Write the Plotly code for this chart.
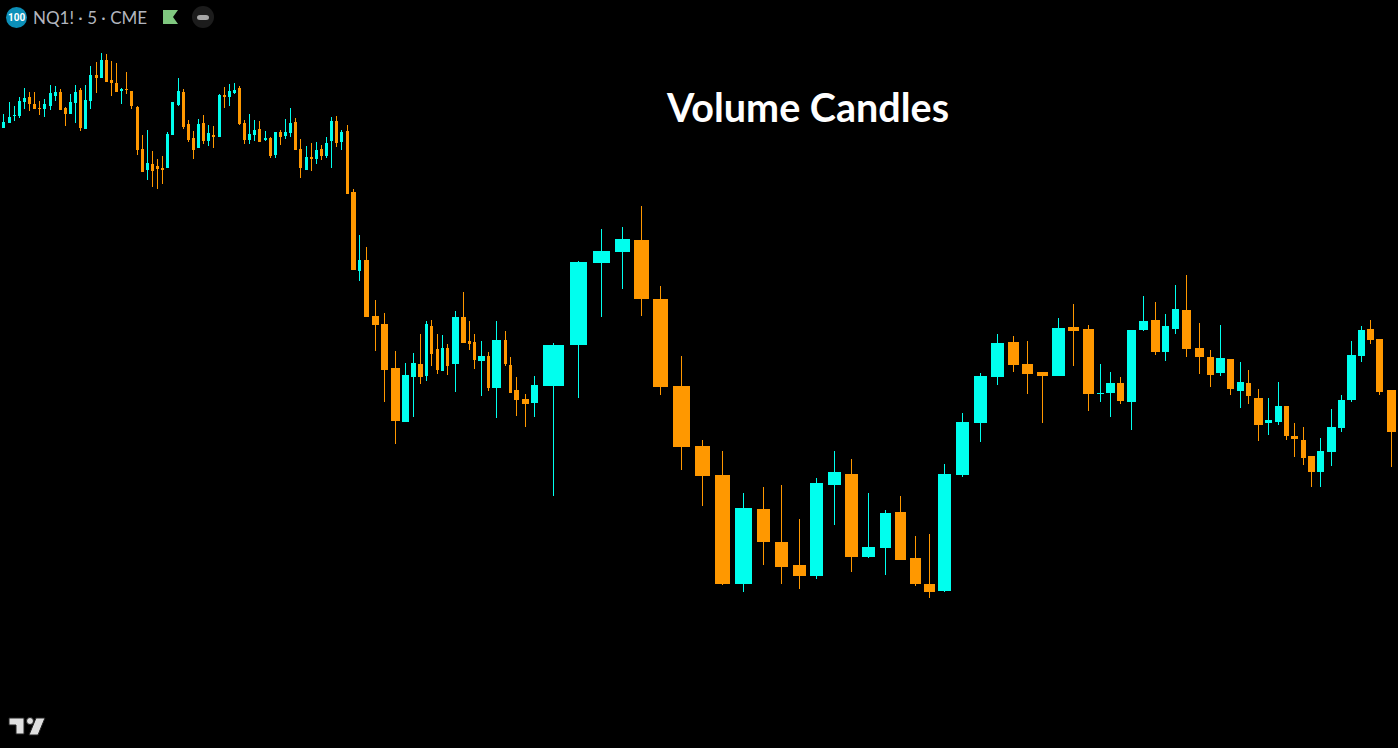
import plotly.graph_objects as go

# Volume candles: x runs along cumulative volume, y is points below a reference level
volume_start = [2, 8, 13, 18, 23, 28, 33, 38, 43, 49, 54, 59, 64, 69, 74, 79, 84, 89, 95, 100, 105, 110, 115, 120, 125, 130,
                136, 141, 146, 151, 156, 161, 166, 171, 177, 182, 187, 192, 197, 202, 207, 212, 218, 223, 228, 233, 238, 243,
                248, 253, 258, 264, 269, 274, 279, 284, 289, 294, 299, 305, 310, 315, 320, 325, 330, 335, 340, 346, 351, 358,
                364, 372, 381, 391, 402, 411, 418, 425, 430, 436, 441, 446, 452, 461, 468, 473, 478, 487, 492, 504, 509, 514,
                522, 531, 543, 570, 593, 615, 634, 653, 673, 695, 715, 735, 757, 775, 793, 810, 828, 845, 862, 880, 895, 910,
                924, 938, 956, 974, 991, 1008, 1022, 1037, 1052, 1068, 1083, 1097, 1106, 1117, 1127, 1139, 1151, 1162, 1172,
                1182, 1195, 1207, 1216, 1227, 1237, 1246, 1254, 1265, 1275, 1284, 1291, 1301, 1308, 1317, 1327, 1338, 1347,
                1358, 1367, 1376, 1387]
volumes = [3, 3, 3, 3, 3, 3, 3, 3, 3, 3, 3, 3, 3, 3, 3, 3, 3, 3, 3, 3, 3, 3, 3, 3, 3, 3,
           3, 3, 3, 3, 3, 3, 3, 3, 3, 3, 3, 3, 3, 3, 3, 3, 3, 3, 3, 3, 3, 3,
           3, 3, 3, 3, 3, 3, 3, 3, 3, 3, 3, 3, 3, 3, 3, 3, 3, 3, 3, 3, 5, 3,
           5, 7, 7, 9, 7, 5, 5, 3, 3, 3, 3, 3, 7, 5, 3, 3, 7, 3, 9, 3, 3, 5,
           7, 7, 21, 17, 17, 15, 15, 15, 17, 15, 15, 17, 13, 13, 13, 13, 13, 13, 13, 11, 11, 11,
           11, 13, 13, 13, 13, 11, 11, 11, 13, 11, 11, 7, 9, 7, 9, 9, 9, 7, 7,
           9, 9, 7, 9, 7, 7, 5, 9, 7, 7, 5, 7, 5, 7, 7, 9, 7, 9,
           7, 7, 7, 9]
opens = [128, 123, 116, 116, 102, 97, 104, 108, 109, 106, 96, 92, 108, 114, 103, 90, 129, 101, 75, 78, 60, 80, 83, 91, 89, 91,
         107, 149, 170, 164, 166, 168, 168, 135, 105, 92, 124, 138, 148, 123, 141, 135, 137, 95, 97, 93, 88, 123,
         140, 135, 129, 140, 138, 155, 132, 136, 133, 122, 149, 170, 157, 159, 149, 156, 141, 121, 142, 131, 192, 271,
         260, 316, 324, 368, 422, 377, 364, 376, 326, 349, 371, 348, 364, 317, 341, 342, 361, 356, 388, 340, 365, 390,
         399, 403, 386, 345, 263, 252, 240, 299, 386, 446, 475, 584, 509, 542, 565, 576, 485, 474, 557, 548, 512, 558,
         584, 591, 475, 423, 377, 342, 364, 372, 376, 327, 329, 394, 393, 383, 402, 330, 320, 352, 329,
         310, 348, 357, 373, 359, 391, 383, 398, 423, 422, 406, 436, 440, 456, 472, 452, 428, 400,
         356, 329, 339, 390]
closes = [122, 117, 115, 101, 98, 104, 109, 109, 104, 93, 92, 110, 114, 102, 92, 128, 100, 75, 78, 60, 82, 83, 92, 89, 90, 106,
          150, 172, 163, 171, 169, 170, 134, 102, 91, 127, 140, 150, 124, 141, 133, 137, 95, 97, 91, 90, 124, 140,
          134, 130, 142, 138, 156, 132, 137, 132, 123, 150, 168, 157, 159, 150, 156, 143, 121, 143, 132, 194, 270, 260,
          317, 325, 370, 421, 375, 363, 377, 324, 354, 370, 348, 366, 317, 343, 344, 360, 356, 388, 340, 364, 393, 400,
          404, 385, 345, 262, 251, 239, 299, 387, 447, 476, 584, 508, 542, 567, 576, 483, 472, 557, 547, 513, 560, 584,
          592, 474, 422, 376, 343, 365, 374, 376, 328, 331, 394, 393, 383, 401, 330, 321, 352, 326, 309,
          349, 357, 375, 358, 389, 382, 396, 425, 420, 406, 436, 439, 458, 472, 451, 427, 400, 355,
          330, 340, 392, 432]
highs = [114, 102, 106, 97, 88, 92, 92, 101, 99, 85, 86, 89, 107, 94, 85, 88, 85, 66, 62, 53, 54, 61, 63, 88, 72, 91,
         106, 135, 130, 151, 159, 156, 132, 102, 78, 89, 120, 131, 119, 115, 125, 126, 94, 87, 84, 83, 86, 120,
         114, 120, 121, 131, 137, 132, 130, 119, 108, 118, 139, 146, 143, 142, 145, 137, 117, 116, 130, 125, 189, 235,
         247, 300, 313, 351, 363, 353, 334, 321, 320, 334, 335, 344, 311, 292, 321, 334, 341, 352, 321, 331, 357, 377,
         394, 376, 343, 261, 229, 227, 206, 286, 356, 440, 451, 493, 487, 485, 519, 478, 451, 459, 493, 510, 496, 536,
         534, 464, 413, 373, 334, 336, 341, 372, 318, 304, 325, 364, 372, 377, 330, 296, 302, 314, 285,
         275, 323, 350, 325, 359, 362, 370, 389, 398, 382, 406, 423, 427, 456, 438, 409, 395, 341,
         326, 320, 339, 390]
lows = [128, 123, 121, 118, 109, 111, 109, 115, 117, 110, 101, 110, 126, 114, 123, 131, 129, 109, 93, 78, 82, 96, 92, 104, 94, 109,
        155, 172, 180, 187, 189, 184, 168, 135, 106, 129, 142, 159, 148, 144, 146, 148, 137, 108, 106, 94, 125, 144,
        144, 141, 142, 141, 158, 158, 145, 139, 137, 150, 178, 170, 171, 164, 160, 158, 168, 147, 150, 194, 270, 281,
        317, 351, 402, 444, 422, 417, 384, 381, 366, 374, 371, 375, 392, 343, 350, 369, 396, 391, 418, 366, 393, 416,
        427, 417, 496, 398, 317, 289, 316, 395, 470, 506, 585, 592, 565, 584, 589, 579, 525, 572, 558, 575, 560, 586,
        598, 592, 477, 442, 385, 372, 394, 423, 376, 366, 411, 402, 417, 404, 430, 331, 355, 361, 334,
        357, 374, 387, 376, 395, 408, 404, 441, 435, 425, 440, 457, 465, 487, 487, 466, 432, 402,
        362, 344, 395, 467]

UP_COLOR = "#00FFEE"
DOWN_COLOR = "#FF9800"
BADGE_COLOR = "#0C8FB8"


def _candle_traces(rows: list, color: str) -> list:
    # wicks drawn first, then bodies on top
    wick_x, wick_y = [], []
    for c, o, cl, h, l, w in rows:
        wick_x += [c, c, None]
        wick_y += [h, l, None]
    return [
        go.Scatter(x=wick_x, y=wick_y, mode="lines", line=dict(color=color, width=1), hoverinfo="skip"),
        go.Bar(
            x=[r[0] for r in rows],
            y=[abs(r[2] - r[1]) for r in rows],
            base=[min(r[1], r[2]) for r in rows],
            width=[r[5] for r in rows],
            marker=dict(color=color, line=dict(width=0)),
        ),
    ]


rows = list(zip([s + v / 2 for s, v in zip(volume_start, volumes)], opens, closes, highs, lows, volumes))
rows_up = [(c, o, cl, h, l, w) for c, o, cl, h, l, w in rows if cl < o]
rows_down = [(c, o, cl, h, l, w) for c, o, cl, h, l, w in rows if cl >= o]

fig = go.Figure()
for trace in _candle_traces(rows_up, UP_COLOR) + _candle_traces(rows_down, DOWN_COLOR):
    fig.add_trace(trace)

fig.update_layout(
    width=1398,
    height=748,
    margin=dict(l=0, r=0, t=0, b=0),
    paper_bgcolor="#000000",
    plot_bgcolor="#000000",
    showlegend=False,
    bargap=0,
    xaxis=dict(range=[0, 1398], visible=False, fixedrange=True),
    yaxis=dict(range=[748, 0], visible=False, fixedrange=True),
    annotations=[
        dict(x=807, y=106, xref="x", yref="y", text="<b>Volume Candles</b>", showarrow=False,
             font=dict(family="Lato", size=39.5, color="#FFFFFF")),
        dict(x=31, y=17, xref="x", yref="y", text="NQ1! · 5 · CME", showarrow=False, xanchor="left",
             font=dict(family="Lato", size=17, color="#B2B5BE")),
        dict(x=16.5, y=17.5, xref="x", yref="y", text="<b>100</b>", showarrow=False,
             font=dict(family="Roboto", size=10, color="#FFFFFF")),
    ],
    shapes=[
        # symbol badge
        dict(type="circle", x0=6, x1=27, y0=7, y1=28, xref="x", yref="y", fillcolor=BADGE_COLOR, line_width=0),
        # flag
        dict(type="path", path="M 163 10 L 178 10 L 173 17 L 178 24 L 163 24 Z", xref="x", yref="y",
             fillcolor="#7FC77F", line_width=0),
        # status pill
        dict(type="circle", x0=192, x1=214, y0=6, y1=28, xref="x", yref="y", fillcolor="#1C1C1C", line_width=0),
        dict(type="path", path="M 200 15 L 206 15 Q 209 15 209 17.5 Q 209 20 206 20 L 200 20 Q 197 20 197 17.5 Q 197 15 200 15 Z",
             xref="x", yref="y", fillcolor="#A6A6A6", line_width=0),
        # logo
        dict(type="path", path="M 9 718 L 24 718 L 24 734 L 16 734 L 16 725 L 9 725 Z", xref="x", yref="y",
             fillcolor="#E0E0E0", line=dict(color="#222222", width=1)),
        dict(type="circle", x0=26.5, x1=33.5, y0=717.5, y1=724.5, xref="x", yref="y",
             fillcolor="#E0E0E0", line=dict(color="#222222", width=1)),
        dict(type="path", path="M 36 718 L 45 718 L 38 735 L 29 735 Z", xref="x", yref="y",
             fillcolor="#E0E0E0", line=dict(color="#222222", width=1)),
    ],
)

fig.write_html(
    "out.html",
    config=dict(displayModeBar=False),
    post_script="document.body.style.margin='0';document.body.style.background='#000';document.body.style.overflow='hidden';",
)
